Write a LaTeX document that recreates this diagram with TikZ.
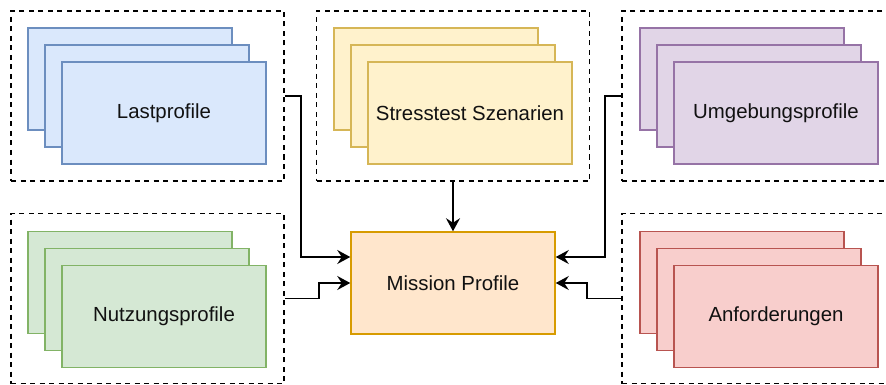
\documentclass[tikz,border=0pt]{standalone}
\usepackage{fontspec}
\setmainfont{Liberation Sans}
\usetikzlibrary{arrows.meta}
\definecolor{bluef}{HTML}{DAE8FC}\definecolor{blued}{HTML}{6C8EBF}
\definecolor{yelf}{HTML}{FFF2CC}\definecolor{yeld}{HTML}{D6B656}
\definecolor{purf}{HTML}{E1D5E7}\definecolor{purd}{HTML}{9673A6}
\definecolor{grnf}{HTML}{D5E8D4}\definecolor{grnd}{HTML}{82B366}
\definecolor{redf}{HTML}{F8CECC}\definecolor{redd}{HTML}{B85450}
\definecolor{orgf}{HTML}{FFE6CC}\definecolor{orgd}{HTML}{D79B00}
\definecolor{txt}{HTML}{111111}
\tikzset{
  card/.style 2 args={draw=#2, fill=#1, line width=1.5pt, minimum width=204pt, minimum height=102pt, inner sep=0pt, text=txt, font=\fontsize{20.4}{24}\selectfont},
  grp/.style={draw=black, dash pattern=on 5pt off 4.5pt, line width=1.8pt, minimum width=273pt, minimum height=170pt, inner sep=0pt},
  arr/.style={draw=black, line width=1.8pt, -{Stealth[length=13pt,width=14pt,inset=4.5pt]}}
}
\begin{document}
\begin{tikzpicture}[x=1pt,y=-1pt]
\path[use as bounding box, fill=white] (0,0) rectangle (886,385);
\clip (0,0) rectangle (886,385);
% groups
\node[grp] (g1) at (147.5,96) {};
\node[grp] (g2) at (453,96) {};
\node[grp] (g3) at (758.5,96) {};
\node[grp] (g4) at (147.5,298.5) {};
\node[grp] (g5) at (758.5,298.5) {};
% Lastprofile
\node[card={bluef}{blued}] (a1) at (130,79) {};
\node[card={bluef}{blued}] (a2) at (147,96) {};
\node[card={bluef}{blued}] (a3) at (164,113) {Lastprofile};
% Stresstest
\node[card={yelf}{yeld}] (b1) at (436,79) {};
\node[card={yelf}{yeld}] (b2) at (453,96) {};
\node[card={yelf}{yeld}] (b3) at (470,113) {Stresstest Szenarien};
% Umgebung
\node[card={purf}{purd}] (c1) at (742,79) {};
\node[card={purf}{purd}] (c2) at (759,96) {};
\node[card={purf}{purd}] (c3) at (776,113) {Umgebungsprofile};
% Nutzung
\node[card={grnf}{grnd}] (d1) at (130,282.5) {};
\node[card={grnf}{grnd}] (d2) at (147,299.5) {};
\node[card={grnf}{grnd}] (d3) at (164,316.5) {Nutzungsprofile};
% Anforderungen
\node[card={redf}{redd}] (e1) at (742,282.5) {};
\node[card={redf}{redd}] (e2) at (759,299.5) {};
\node[card={redf}{redd}] (e3) at (776,316.5) {Anforderungen};
% Mission
\node[card={orgf}{orgd}] (mp) at (453,283) {Mission Profile};
% connectors
\draw[arr] (g1.east) -- ++(16,0) |- ([yshift=26pt]mp.west);
\draw[arr] (g2.south) -- (mp.north);
\draw[arr] (g3.west) -- ++(-16,0) |- ([yshift=26pt]mp.east);
\draw[arr] (g4.east) -- ++(34,0) |- (mp.west);
\draw[arr] (g5.west) -- ++(-34,0) |- (mp.east);
\end{tikzpicture}
\end{document}
